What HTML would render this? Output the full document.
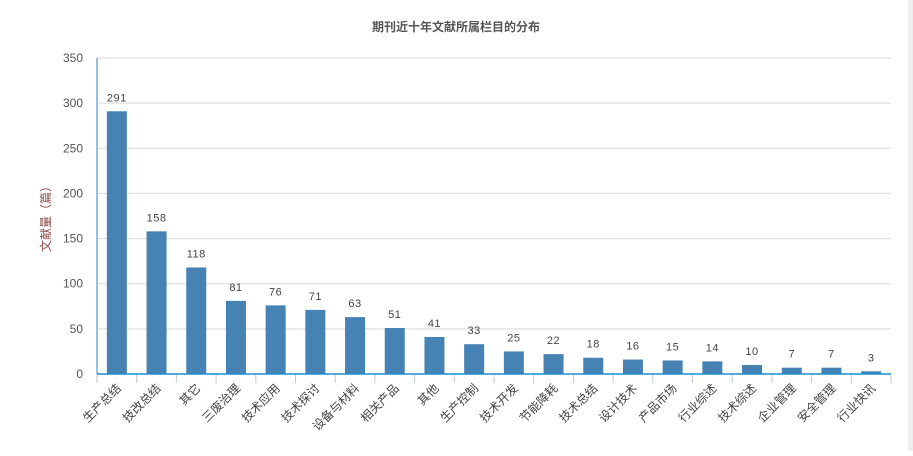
<!DOCTYPE html>
<html><head><meta charset="utf-8"><style>
body{margin:0;background:#fff;width:913px;height:451px;overflow:hidden;font-family:"Liberation Sans","Noto Sans CJK SC",sans-serif}
</style></head><body>
<svg width="913" height="451" xmlns="http://www.w3.org/2000/svg">
<rect x="908" y="0" width="5" height="451" fill="#eeeeee"/>
<text x="456" y="31" text-anchor="middle" font-size="12" font-weight="bold" fill="#555">期刊近十年文献所属栏目的分布</text>
<text transform="translate(50,216) rotate(-90)" text-anchor="middle" font-size="12" fill="#8b4a4a">文献量（篇）</text>
<g id="grid"></g><g id="bars"></g><g id="xaxis"></g>
</svg>
<script>
const categories=["生产总结","技改总结","其它","三废治理","技术应用","技术探讨","设备与材料","相关产品","其他","生产控制","技术开发","节能降耗","技术总结","设计技术","产品市场","行业综述","技术综述","企业管理","安全管理","行业快讯"];
const values=[291,158,118,81,76,71,63,51,41,33,25,22,18,16,15,14,10,7,7,3];
const yTicks=[0,50,100,150,200,250,300,350];
const NS="http://www.w3.org/2000/svg";
const x0=97,x1=891,y0=374,yTop=58,yMax=350;
const band=(x1-x0)/categories.length;
const yS=v=>y0-(v/yMax)*(y0-yTop);
function mk(t,a,p){const e=document.createElementNS(NS,t);for(const k in a)e.setAttribute(k,a[k]);p.appendChild(e);return e;}
const grid=document.getElementById('grid'),bars=document.getElementById('bars'),xa=document.getElementById('xaxis');
yTicks.forEach(v=>{
 const y=yS(v);
 if(v>0){const l=mk('line',{x1:x0,x2:x1,y1:y,y2:y,stroke:'#d9d9d9','stroke-width':1},grid);
 
 }
 const t=mk('text',{x:x0-14,y:y+4,'text-anchor':'end','font-size':12,fill:'#555'},grid);t.textContent=v;
 
 
});
const ya=mk('line',{x1:x0,x2:x0,y1:yTop,y2:y0,stroke:'#2a86c0','stroke-width':1},xa);


categories.forEach((c,i)=>{
 const cx=x0+band*(i+0.5),y=yS(values[i]);
 const r=mk('rect',{x:cx-10,y:y,width:20,height:y0-y,fill:'#4682b4'},bars);
 
 
 const lt=mk('text',{x:cx,y:y-10,'text-anchor':'middle','font-size':11,fill:'#444','letter-spacing':'0.5'},bars);lt.textContent=values[i];
 
 
 const tk=mk('line',{x1:x0+band*i,x2:x0+band*i,y1:y0,y2:y0+9,stroke:'#c0cad6'},xa);
 
 
 const xl=mk('text',{transform:`translate(${cx+5},${y0+15}) rotate(-45)`,'text-anchor':'end','font-size':12,fill:'#444'},xa);xl.textContent=c;
 
 
});
const lastTk=mk('line',{x1:x1,x2:x1,y1:y0,y2:y0+9,stroke:'#c0cad6'},xa);


const xl=mk('line',{x1:x0,x2:x1,y1:y0,y2:y0,stroke:'#1a8fcf','stroke-width':1.5},xa);


</script>
</body></html>
